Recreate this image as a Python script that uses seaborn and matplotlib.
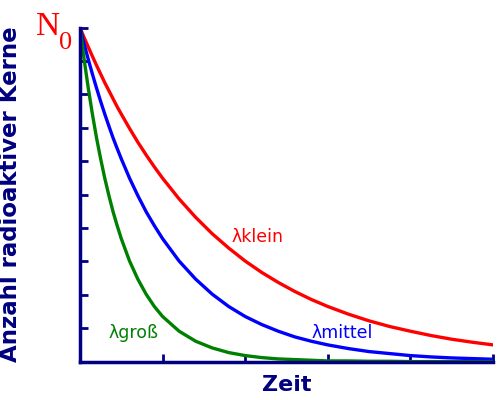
import numpy as np
import pandas as pd
import seaborn as sns
import matplotlib.pyplot as plt

# time axis (arbitrary units) and values
zeit = [0, 0.05, 0.1, 0.15, 0.2, 0.25, 0.3, 0.35, 0.4, 0.45, 0.5,
        0.6, 0.7, 0.8, 0.9, 1.0,
        1.2, 1.4, 1.6, 1.8, 2.0, 2.2, 2.4, 2.6, 2.8, 3.0,
        3.25, 3.5, 3.75, 4.0, 4.25, 4.5, 4.75, 5.0]
kerne_klein = [1.000, 0.970, 0.942, 0.914, 0.887, 0.861, 0.835, 0.811, 0.787, 0.763, 0.741,
               0.698, 0.657, 0.619, 0.583, 0.549,
               0.487, 0.432, 0.383, 0.340, 0.301, 0.267, 0.237, 0.210, 0.186, 0.165,
               0.142, 0.122, 0.105, 0.091, 0.078, 0.067, 0.058, 0.050]
kerne_mittel = [1.000, 0.951, 0.905, 0.861, 0.819, 0.779, 0.741, 0.705, 0.670, 0.638, 0.607,
                0.549, 0.497, 0.449, 0.407, 0.368,
                0.301, 0.247, 0.202, 0.165, 0.135, 0.111, 0.091, 0.074, 0.061, 0.050,
                0.039, 0.030, 0.024, 0.018, 0.014, 0.011, 0.009, 0.007]
kerne_gross = [1.000, 0.905, 0.819, 0.741, 0.670, 0.607, 0.549, 0.497, 0.449, 0.407, 0.368,
               0.301, 0.247, 0.202, 0.165, 0.135,
               0.091, 0.061, 0.041, 0.027, 0.018, 0.012, 0.008, 0.006, 0.004, 0.002,
               0.002, 0.001, 0.001, 0.000, 0.000, 0.000, 0.000, 0.000]

serien = ['klein', 'mittel', 'groß']
farben = {'klein': '#ff0000', 'mittel': '#0000ff', 'groß': '#008000'}

df = pd.DataFrame({
    'Zeit': zeit * 3,
    'Kerne': kerne_klein + kerne_mittel + kerne_gross,
    'lambda': ['klein'] * len(zeit) + ['mittel'] * len(zeit) + ['groß'] * len(zeit),
})

sns.set_style('white')
navy = '#000080'

fig = plt.figure(figsize=(5, 4), dpi=100)
ax = fig.add_axes([0.16, 0.096, 0.826, 0.835])

sns.lineplot(data=df, x='Zeit', y='Kerne', hue='lambda', hue_order=serien,
             palette=farben, linewidth=2.4, legend=False, ax=ax)

ax.set_xlim(0, 5)
ax.set_ylim(0, 1)
ax.set_xticks(np.arange(0, 5.01, 1))
ax.set_yticks(np.arange(0, 1.01, 0.1))
ax.tick_params(direction='in', length=6, width=2, colors=navy,
               bottom=True, left=True, labelbottom=False, labelleft=False)
for side in ['top', 'right']:
    ax.spines[side].set_visible(False)
for side in ['left', 'bottom']:
    ax.spines[side].set_color(navy)
    ax.spines[side].set_linewidth(2.5)

ax.set_xlabel('Zeit', fontsize=16, fontweight='bold', color=navy, labelpad=10)
ax.set_ylabel('Anzahl radioaktiver Kerne', fontsize=16.5, fontweight='bold',
              color=navy, labelpad=42)

# curve labels
ax.text(1.83, 0.374, 'λklein', color='#ff0000', fontsize=12.5, va='center', ha='left')
ax.text(2.80, 0.086, 'λmittel', color='#0000ff', fontsize=12.5, va='center', ha='left')
ax.text(0.35, 0.086, 'λgroß', color='#008000', fontsize=12.5, va='center', ha='left')

# N0 marker at the start value
fig.text(0.072, 0.912, 'N', color='#ff0000', fontsize=24,
         family='Liberation Serif', ha='left', va='baseline')
fig.text(0.118, 0.877, '0', color='#ff0000', fontsize=19,
         family='Liberation Serif', ha='left', va='baseline')

fig.savefig('out.png', dpi=100)
